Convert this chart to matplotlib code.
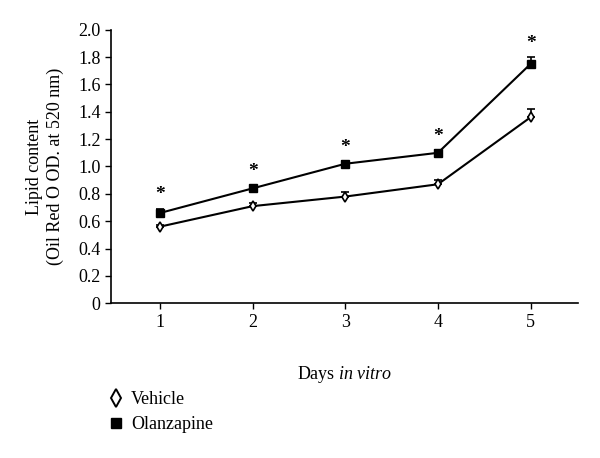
import matplotlib; matplotlib.use("Agg")
import matplotlib.pyplot as plt
from matplotlib.lines import Line2D

days = [1, 2, 3, 4, 5]
vehicle = [0.56, 0.71, 0.78, 0.87, 1.36]
vehicle_err = [0.01, 0.02, 0.03, 0.03, 0.06]
olanzapine = [0.66, 0.84, 1.02, 1.10, 1.75]
olanzapine_err = [0.03, 0.02, 0.02, 0.02, 0.05]
yticks = [0, 0.2, 0.4, 0.6, 0.8, 1.0, 1.2, 1.4, 1.6, 1.8, 2.0]
ytick_labels = ["0", "0.2", "0.4", "0.6", "0.8", "1.0", "1.2", "1.4", "1.6", "1.8", "2.0"]

plt.rcParams["font.family"] = ["Liberation Serif", "DejaVu Serif"]
plt.rcParams["mathtext.fontset"] = "custom"
plt.rcParams["mathtext.it"] = "Liberation Serif:italic"
plt.rcParams["mathtext.rm"] = "Liberation Serif"
fs = 13

fig = plt.figure(figsize=(6, 4.58), dpi=100)
ax = fig.add_axes([0.185, 0.338, 0.778, 0.597])

ax.errorbar(days, olanzapine, yerr=[[0] * 5, olanzapine_err], color="black", lw=1.5,
            marker="s", ms=5.5, mfc="black", mec="black", capsize=3, elinewidth=1.2, capthick=1.2)
ax.errorbar(days, vehicle, yerr=[[0] * 5, vehicle_err], color="black", lw=1.5,
            marker="d", ms=5.5, mfc="white", mec="black", mew=1.2, capsize=3, elinewidth=1.2, capthick=1.2)

# significance stars above olanzapine
for d, v, e in zip(days, olanzapine, olanzapine_err):
    ax.text(d, v + e + 0.04, "*", ha="center", va="bottom", fontsize=14, fontweight="bold")

ax.set_xlim(0.47, 5.51)
ax.set_ylim(0, 2.0)
ax.set_xticks(days)
ax.set_yticks(yticks)
ax.set_yticklabels(ytick_labels)
ax.tick_params(labelsize=fs, length=4, width=1, direction="out")
for s in ["top", "right"]:
    ax.spines[s].set_visible(False)
for s in ["left", "bottom"]:
    ax.spines[s].set_linewidth(1.2)

ax.set_ylabel("Lipid content\n(Oil Red O OD. at 520 nm)", fontsize=fs, labelpad=10, linespacing=1.3)
ax.set_xlabel("Days $\\mathit{in\\ vitro}$", fontsize=fs, labelpad=24)

handles = [Line2D([], [], ls="none", marker="d", ms=9, mfc="white", mec="black", mew=1.4),
           Line2D([], [], ls="none", marker="s", ms=7, mfc="black", mec="black")]
fig.legend(handles, ["Vehicle", "Olanzapine"], loc="upper left", bbox_to_anchor=(0.155, 0.182),
           frameon=False, fontsize=fs, handlelength=0.8, handletextpad=0.4, labelspacing=0.45)

plt.savefig("out.png", dpi=100)
